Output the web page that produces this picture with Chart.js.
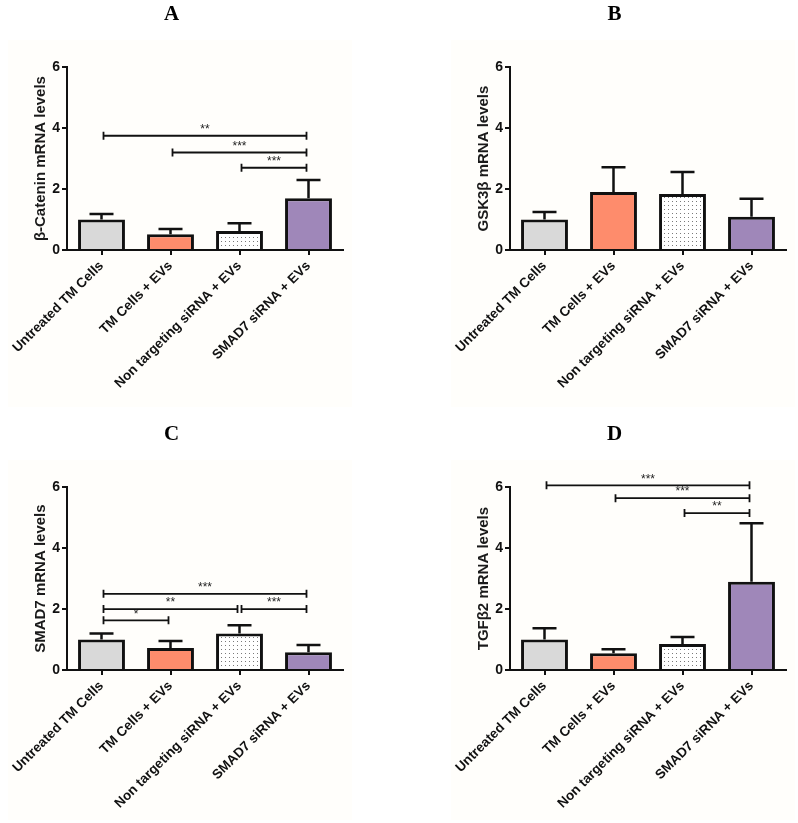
<!DOCTYPE html>
<html>
<head>
<meta charset="utf-8">
<script src="https://cdn.jsdelivr.net/npm/chart.js@4.4.1/dist/chart.umd.min.js"></script>
<style>
  body { margin: 0; background: #fff; width: 798px; height: 823px; position: relative; overflow: hidden; }
  .bg { position: absolute; background: #fffefb; width: 344px; height: 367px; }
  canvas { position: absolute; }
</style>
</head>
<body>
<div class="bg" style="left:8px;top:40px"></div>
<div class="bg" style="left:451px;top:40px"></div>
<div class="bg" style="left:8px;top:460px;height:360px"></div>
<div class="bg" style="left:451px;top:460px;height:360px"></div>
<canvas id="chartA" width="350" height="400" style="left:0;top:0"></canvas>
<canvas id="chartB" width="350" height="400" style="left:443px;top:0"></canvas>
<canvas id="chartC" width="350" height="400" style="left:0;top:420px"></canvas>
<canvas id="chartD" width="350" height="400" style="left:443px;top:420px"></canvas>
<script>
// datos
const categories = ["Untreated TM Cells", "TM Cells + EVs", "Non targeting siRNA + EVs", "SMAD7 siRNA + EVs"];
const yTicks = [0, 2, 4, 6];

const meansA = [1.0, 0.52, 0.62, 1.70];
const errA   = [0.18, 0.17, 0.26, 0.60];
const meansB = [1.0, 1.90, 1.84, 1.09];
const errB   = [0.25, 0.82, 0.72, 0.59];
const meansC = [1.0, 0.72, 1.20, 0.58];
const errC   = [0.20, 0.23, 0.27, 0.24];
const meansD = [1.0, 0.55, 0.85, 2.90];
const errD   = [0.37, 0.13, 0.23, 1.92];

// [desde, hasta, altura, texto]
const sigA = [[0, 3, 3.75, "**"], [1, 3, 3.2, "***"], [2, 3, 2.7, "***"]];
const sigB = [];
const sigC = [[0, 3, 2.5, "***"], [0, 2, 2.0, "**"], [2, 3, 2.0, "***"], [0, 1, 1.63, "*"]];
const sigD = [[0, 3, 6.06, "***"], [1, 3, 5.64, "***"], [2, 3, 5.15, "**"]];

// patron de puntos para la tercera barra
function dots() {
    const c = document.createElement("canvas");
    c.width = 4; c.height = 4;
    const g = c.getContext("2d");
    g.fillStyle = "#fff";
    g.fillRect(0, 0, 4, 4);
    g.fillStyle = "#7a7a7a";
    g.fillRect(1, 1, 1, 1);
    return g.createPattern(c, "repeat");
}

const extras = {
    id: "extras",
    afterDatasetsDraw(chart, args, opts) {
        const ctx = chart.ctx, x = chart.scales.x, y = chart.scales.y;
        ctx.save();
        ctx.strokeStyle = "#111";
        ctx.lineWidth = 2.5;
        opts.errors.forEach((e, i) => {
            const px = x.getPixelForValue(i);
            const y0 = y.getPixelForValue(opts.means[i]);
            const y1 = y.getPixelForValue(opts.means[i] + e);
            ctx.beginPath();
            ctx.moveTo(px, y0); ctx.lineTo(px, y1);
            ctx.moveTo(px - 12, y1); ctx.lineTo(px + 12, y1);
            ctx.stroke();
        });
        ctx.lineWidth = 1.8;
        ctx.font = '12px "Liberation Sans"';
        ctx.textAlign = "center";
        ctx.textBaseline = "bottom";
        ctx.fillStyle = "#222";
        opts.brackets.forEach(([a, b, v, s]) => {
            const xa = x.getPixelForValue(a) + 2;
            const xb = x.getPixelForValue(b) - 2;
            const py = y.getPixelForValue(v);
            ctx.beginPath();
            ctx.moveTo(xa, py); ctx.lineTo(xb, py);
            ctx.moveTo(xa, py - 4); ctx.lineTo(xa, py + 4);
            ctx.moveTo(xb, py - 4); ctx.lineTo(xb, py + 4);
            ctx.stroke();
            ctx.fillText(s, (xa + xb) / 2, py);
        });
        ctx.restore();
    }
};

function panel(id, letter, yLabel, means, errors, brackets) {
    const ctx = document.getElementById(id).getContext("2d");
    const fam = '"Liberation Sans", Arial, sans-serif';
    new Chart(ctx, {
        type: "bar",
        data: {
            labels: categories,
            datasets: [{
                data: means,
                backgroundColor: ["#d9d9d9", "#fe8c6c", dots(), "#9f87b9"],
                borderColor: "#111",
                borderWidth: 3,
                borderSkipped: "bottom",
                barPercentage: 0.68,
                categoryPercentage: 1
            }]
        },
        plugins: [extras],
        options: {
            responsive: false,
            animation: false,
            layout: { padding: { left: 0, right: 7, top: 0, bottom: 0 } },
            scales: {
                x: {
                    grid: { offset: false, drawOnChartArea: false, drawTicks: true, tickLength: 5, color: "#111", lineWidth: 2 },
                    border: { display: true, color: "#111", width: 2 },
                    ticks: { font: { family: fam, size: 13.5, weight: "bold" }, color: "#111", minRotation: 45, maxRotation: 45, autoSkip: false, padding: 3 },
                    afterFit: s => { s.height = 150; s.paddingLeft = 0; s.paddingRight = 0; }
                },
                y: {
                    min: 0, max: 6,
                    afterBuildTicks: s => { s.ticks = yTicks.map(v => ({ value: v })); },
                    grid: { drawOnChartArea: false, drawTicks: true, tickLength: 5, color: "#111", lineWidth: 2 },
                    border: { display: true, color: "#111", width: 2 },
                    ticks: { font: { family: fam, size: 14, weight: "bold" }, color: "#111", padding: 2 },
                    title: { display: true, text: yLabel, font: { family: fam, size: 15, weight: "bold" }, color: "#1a1a1a", padding: { top: 32, bottom: 0 } },
                    afterFit: s => { s.width = 67; }
                }
            },
            plugins: {
                legend: { display: false },
                tooltip: { enabled: false },
                title: {
                    display: true, text: letter, color: "#000",
                    font: { family: '"Liberation Serif", "Times New Roman", serif', size: 21, weight: "bold" },
                    padding: { top: 2, bottom: 40 }
                },
                extras: { means: means, errors: errors, brackets: brackets }
            }
        }
    });
}

panel("chartA", "A", "β-Catenin mRNA levels", meansA, errA, sigA);
panel("chartB", "B", "GSK3β mRNA levels", meansB, errB, sigB);
panel("chartC", "C", "SMAD7 mRNA levels", meansC, errC, sigC);
panel("chartD", "D", "TGFβ2 mRNA levels", meansD, errD, sigD);
</script>
</body>
</html>
